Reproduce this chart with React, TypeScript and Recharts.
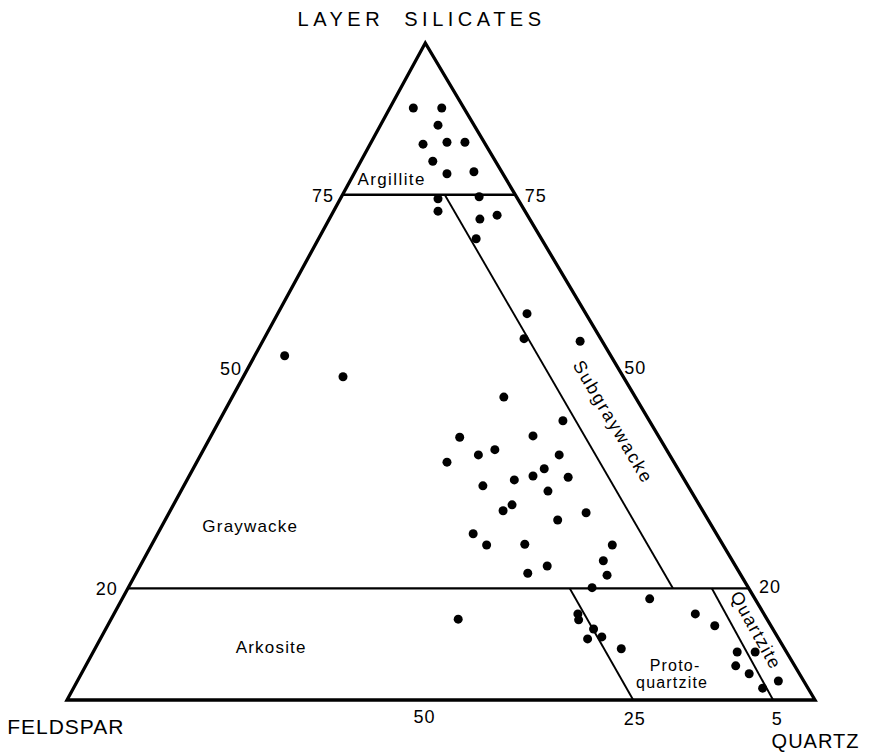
import React from 'react';
import { ScatterChart, Scatter, XAxis, YAxis, ReferenceLine, ReferenceDot } from 'recharts';

// x = position along the base (0 = feldspar corner, 100 = quartz corner)
// y = height toward the layer silicates corner (0..100)
const corners = [[0, 0], [100, 0], [47.9, 100]];

const argilliteSamples = [
  [46.3, 90.1], [50.1, 90.1], [49.6, 87.5], [47.6, 84.6], [50.8, 84.9],
  [53.2, 84.9], [48.9, 82.0], [50.8, 80.1], [54.4, 80.4], [49.6, 76.3],
  [55.1, 76.6], [49.6, 74.4], [55.2, 73.2], [57.5, 73.8], [54.7, 70.2]
];

const wackeSamples = [
  [61.5, 58.8], [61.1, 55.0], [68.6, 54.6], [29.1, 52.4], [36.9, 49.2],
  [58.4, 46.1], [66.3, 42.5], [52.5, 40.0], [62.3, 40.2], [55.0, 37.3],
  [57.2, 38.1], [50.8, 36.2], [65.8, 37.3], [63.8, 35.2], [62.3, 34.1],
  [67.0, 33.9], [55.6, 32.6], [59.8, 33.5], [64.3, 31.8], [59.5, 29.7],
  [58.3, 28.8], [69.4, 28.5], [65.6, 27.4], [54.3, 25.3], [56.1, 23.6],
  [61.2, 23.7], [64.2, 20.4], [61.6, 19.3], [71.7, 21.2], [72.9, 23.6],
  [72.2, 19.0], [70.2, 17.1]
];

const sandSamples = [
  [77.9, 15.4], [68.3, 13.1], [68.4, 12.2], [70.4, 10.8], [71.5, 9.6],
  [69.6, 9.3], [74.1, 7.8], [52.3, 12.3], [84.0, 13.1], [86.6, 11.3],
  [89.6, 7.3], [92.0, 7.3], [89.4, 5.2], [91.2, 4.0], [95.1, 2.9], [93.0, 1.8]
];

// field boundaries, as drawn
const level75 = [[36.8, 76.9], [59.9, 76.9]];
const level20 = [[8.1, 17.0], [91.1, 17.0]];
const subgraywackeLine = [[50.5, 76.9], [81.0, 17.0]];
const protoquartziteLine = [[67.2, 17.0], [75.7, 0]];
const quartziteLine = [[86.2, 17.0], [94.4, 0]];

const cornerNames = ['LAYER\u00A0\u00A0SILICATES', 'FELDSPAR', 'QUARTZ'];
const sideTicks = ['75', '50', '20'];
const baseTicks = ['50', '25', '5'];
const fieldNames = ['Argillite', 'Subgraywacke', 'Graywacke', 'Arkosite', 'Proto-', 'quartzite', 'Quartzite'];

const toPoints = (arr: number[][]) => arr.map(([x, y]) => ({ x, y }));

const FONT = '"Liberation Sans", Arial, sans-serif';

type Ann = { text: string; x: number; y: number; anchor: string; size: number; spacing?: number; rotate?: number };

const annotations: Ann[] = [
  { text: cornerNames[0], x: 47.4, y: 102.6, anchor: 'middle', size: 20, spacing: 4.5 },
  { text: cornerNames[1], x: -8.0, y: -5.2, anchor: 'start', size: 21, spacing: 1 },
  { text: cornerNames[2], x: 94.2, y: -7.3, anchor: 'start', size: 20, spacing: 1 },
  { text: sideTicks[0], x: 35.7, y: 75.8, anchor: 'end', size: 18, spacing: 1 },
  { text: sideTicks[0], x: 61.2, y: 75.8, anchor: 'start', size: 18, spacing: 1 },
  { text: sideTicks[1], x: 23.4, y: 49.5, anchor: 'end', size: 18, spacing: 1 },
  { text: sideTicks[1], x: 74.5, y: 49.6, anchor: 'start', size: 18, spacing: 1 },
  { text: sideTicks[2], x: 6.8, y: 16.0, anchor: 'end', size: 18, spacing: 1 },
  { text: sideTicks[2], x: 92.5, y: 16.3, anchor: 'start', size: 18, spacing: 1 },
  { text: baseTicks[0], x: 47.8, y: -3.5, anchor: 'middle', size: 18, spacing: 1 },
  { text: baseTicks[1], x: 75.9, y: -3.8, anchor: 'middle', size: 18, spacing: 1 },
  { text: baseTicks[2], x: 94.9, y: -3.8, anchor: 'middle', size: 18 },
  { text: fieldNames[0], x: 43.4, y: 78.4, anchor: 'middle', size: 17, spacing: 1.4 },
  { text: fieldNames[1], x: 73.0, y: 42.3, anchor: 'middle', size: 18, spacing: 1.8, rotate: 59.3 },
  { text: fieldNames[2], x: 24.5, y: 25.6, anchor: 'middle', size: 17, spacing: 1.2 },
  { text: fieldNames[3], x: 27.3, y: 7.2, anchor: 'middle', size: 17, spacing: 1.2 },
  { text: fieldNames[4], x: 81.3, y: 4.4, anchor: 'middle', size: 16, spacing: 1.2 },
  { text: fieldNames[5], x: 80.9, y: 1.8, anchor: 'middle', size: 16, spacing: 1.2 },
  { text: fieldNames[6], x: 92.1, y: 10.6, anchor: 'middle', size: 18, spacing: 1.5, rotate: 61 }
];

const Dot = (p: any) => <circle cx={p.cx} cy={p.cy} r={4.5} fill="#000" />;

const App = () => {
  const outline = toPoints([corners[0], corners[1], corners[2], corners[0], corners[1]]);
  const thin = [level75, level20, subgraywackeLine, protoquartziteLine, quartziteLine];
  return (
    <ScatterChart width={861} height={746} margin={{ top: 35, right: 54, bottom: 54, left: 59 }} style={{ overflow: 'visible' }}>
      <XAxis type="number" dataKey="x" domain={[0, 100]} hide />
      <YAxis type="number" dataKey="y" domain={[0, 100]} hide />
      {thin.map((seg, i) => (
        <ReferenceLine
          key={i}
          segment={toPoints(seg)}
          stroke="#000"
          strokeWidth={i < 2 ? 2.3 : 1.9}
          ifOverflow="visible"
        />
      ))}
      <Scatter
        data={outline}
        fill="none"
        line={{ stroke: '#000', strokeWidth: 3.3, strokeLinejoin: 'miter' }}
        shape={() => <g />}
        isAnimationActive={false}
      />
      <Scatter data={toPoints(argilliteSamples)} shape={Dot} isAnimationActive={false} />
      <Scatter data={toPoints(wackeSamples)} shape={Dot} isAnimationActive={false} />
      <Scatter data={toPoints(sandSamples)} shape={Dot} isAnimationActive={false} />
      {annotations.map((a, i) => (
        <ReferenceDot
          key={'a' + i}
          x={a.x}
          y={a.y}
          r={0}
          ifOverflow="visible"
          shape={(p: any) => (
            <text
              x={p.cx}
              y={p.cy}
              textAnchor={a.anchor as any}
              dominantBaseline={a.rotate ? 'central' : undefined}
              transform={a.rotate ? `rotate(${a.rotate} ${p.cx} ${p.cy})` : undefined}
              fontFamily={FONT}
              fontSize={a.size}
              letterSpacing={a.spacing}
              fill="#000"
            >
              {a.text}
            </text>
          )}
        />
      ))}
    </ScatterChart>
  );
};

export default App;
